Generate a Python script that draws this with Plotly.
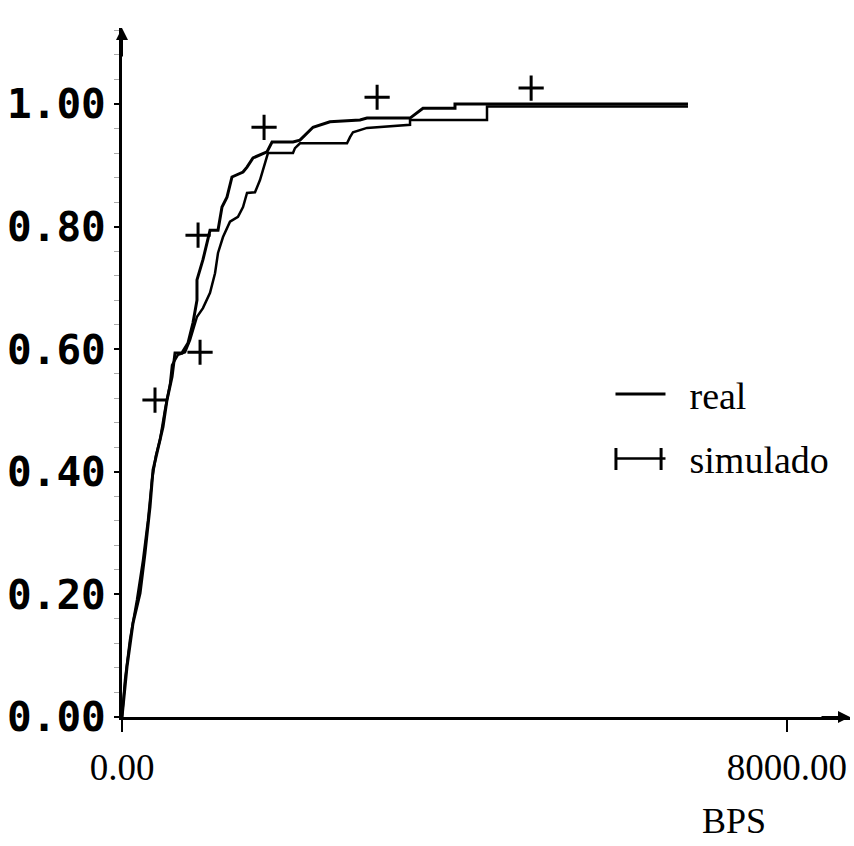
import plotly.graph_objects as go

# Cumulative distribution of throughput (BPS): measured vs simulated
real_x = [0, 60, 132, 217, 277, 337, 373, 433, 493, 541, 602, 638, 722, 794, 854, 902, 902,
          974, 1059, 1155, 1203, 1263, 1323, 1456, 1504, 1576, 1660, 1744, 1805, 2057, 2141,
          2177, 2298, 2502, 2863, 2947, 3465, 3621, 4006, 4006, 6809]
real_y = [0, 0.082, 0.153, 0.202, 0.268, 0.343, 0.403, 0.436, 0.473, 0.517, 0.555, 0.594, 0.594,
          0.610, 0.643, 0.680, 0.713, 0.746, 0.794, 0.794, 0.832, 0.848, 0.881, 0.889, 0.897,
          0.912, 0.917, 0.922, 0.938, 0.938, 0.941, 0.946, 0.962, 0.971, 0.974, 0.977, 0.977,
          0.993, 0.993, 1.0, 1.0]

sim_x = [0, 36, 96, 180, 253, 313, 361, 409, 457, 517, 577, 602, 674, 758, 818, 866, 902, 974,
         1059, 1119, 1155, 1215, 1299, 1395, 1456, 1504, 1600, 1660, 1720, 1756, 2057, 2081,
         2141, 2707, 2743, 2779, 2947, 3465, 3465, 4391, 4391, 6809]
sim_y = [0, 0.060, 0.126, 0.191, 0.256, 0.321, 0.387, 0.427, 0.452, 0.501, 0.542, 0.574, 0.591,
         0.595, 0.615, 0.639, 0.653, 0.667, 0.692, 0.724, 0.757, 0.783, 0.808, 0.816, 0.832,
         0.855, 0.856, 0.876, 0.904, 0.920, 0.920, 0.928, 0.936, 0.936, 0.946, 0.954, 0.961,
         0.966, 0.974, 0.974, 0.996, 0.996]

# Plus-sign markers of the simulated series
sim_mark_x = [397, 915, 939, 1709, 3069, 4922]
sim_mark_y = [0.517, 0.786, 0.595, 0.962, 1.011, 1.026]

y_tick_vals = [0.0, 0.2, 0.4, 0.6, 0.8, 1.0]
y_tick_text = ["0.00", "0.20", "0.40", "0.60", "0.80", "1.00"]
x_tick_vals = [0, 8000]
x_tick_text = ["0.00", "8000.00"]

X_MAX = 8758
Y_MAX = 1.124

serif = "Liberation Serif, serif"
mono = "DejaVu Sans Mono, monospace"
NBSP = "\u00a0"

fig = go.Figure()

fig.add_trace(go.Scatter(
    x=real_x, y=real_y, mode="lines", name=NBSP * 2 + "real",
    line=dict(color="black", width=3), legendgroup="real",
))
fig.add_trace(go.Scatter(
    x=sim_x, y=sim_y, mode="lines", name=NBSP * 2 + "simulado",
    line=dict(color="black", width=2.5), legendgroup="sim",
))
fig.add_trace(go.Scatter(
    x=sim_mark_x, y=sim_mark_y, mode="markers", name="simulado",
    marker=dict(symbol="cross-thin", size=18, line=dict(color="black", width=3)),
    legendgroup="sim", showlegend=False,
))

# arrowheads at the ends of both axes
fig.add_annotation(x=0, y=Y_MAX, xref="x", yref="y", text="", showarrow=True,
                   ax=0, ay=30, arrowhead=2, arrowsize=1.2, arrowwidth=2, arrowcolor="black")
fig.add_annotation(x=X_MAX, y=0, xref="x", yref="y", text="", showarrow=True,
                   ax=-30, ay=0, arrowhead=2, arrowsize=1.2, arrowwidth=2, arrowcolor="black")

# axis title under the right end of the x axis
fig.add_annotation(x=7362, y=0, xref="x", yref="y", yshift=-104, yanchor="middle", text="BPS",
                   showarrow=False, font=dict(family=serif, size=36, color="black"))

# end ticks of the "simulado" legend key
LEG_TICK_Y = (0.3585, 0.3904)
for xp in (0.6785, 0.7405):
    fig.add_shape(type="line", xref="paper", yref="paper",
                  x0=xp, x1=xp, y0=LEG_TICK_Y[0], y1=LEG_TICK_Y[1],
                  line=dict(color="black", width=3))

fig.update_layout(
    width=854, height=846,
    margin=dict(l=122, r=4, t=28, b=129),
    paper_bgcolor="white", plot_bgcolor="white",
    showlegend=True,
    legend=dict(
        x=0.671, y=0.514, xanchor="left", yanchor="top",
        font=dict(family=serif, size=38, color="black"),
        bgcolor="rgba(0,0,0,0)", tracegroupgap=12, traceorder="grouped",
        itemwidth=50,
    ),
)

fig.update_xaxes(
    range=[0, X_MAX], showgrid=False, zeroline=False, automargin=False,
    showline=True, linecolor="black", linewidth=3,
    ticks="outside", ticklen=12, tickwidth=2, tickcolor="black",
    tickvals=x_tick_vals, ticktext=x_tick_text, ticklabelstandoff=4,
    tickfont=dict(family=serif, size=37, color="black"),
)
fig.update_yaxes(
    range=[0, Y_MAX], showgrid=False, zeroline=False, automargin=False,
    showline=True, linecolor="black", linewidth=3,
    ticks="outside", ticklen=5, tickwidth=2, tickcolor="black",
    tickvals=y_tick_vals, ticktext=y_tick_text, ticklabelstandoff=0,
    tickfont=dict(family=mono, size=41, color="black", weight="bold"),
    minor=dict(ticks="outside", tick0=0, dtick=0.04, ticklen=5, tickwidth=1,
               tickcolor="#aaaaaa"),
)

fig.write_html("out.html")
